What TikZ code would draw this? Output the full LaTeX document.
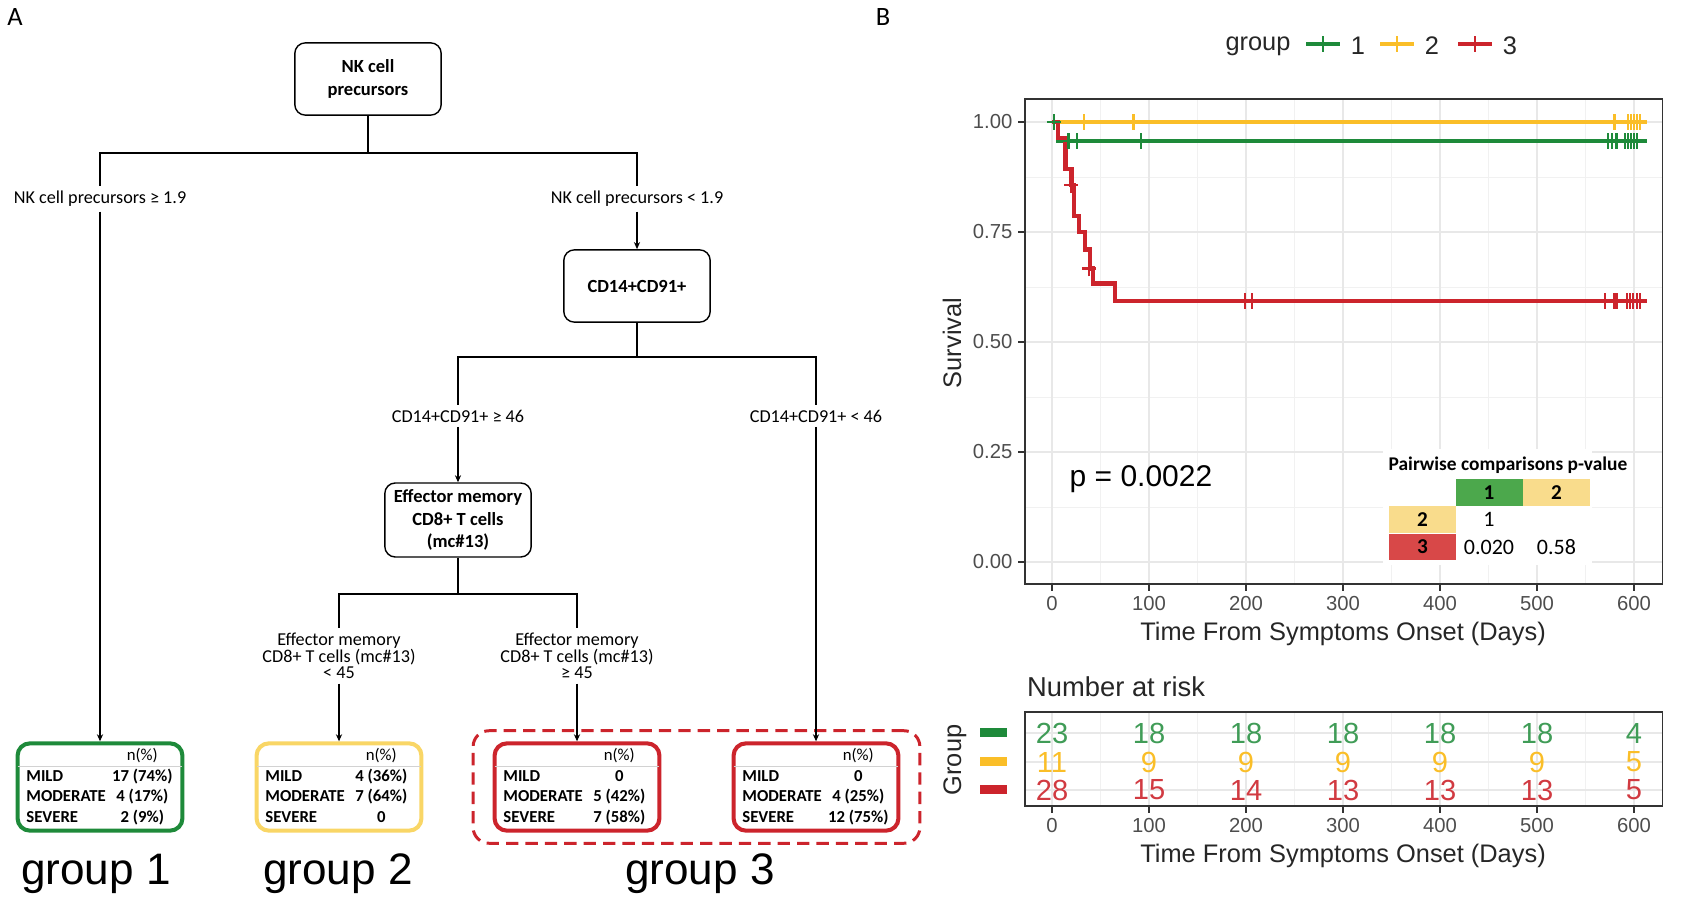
\documentclass[tikz,border=0pt]{standalone}
\usepackage{fontspec}
\setmainfont{Carlito}
\newfontfamily\plotfont{Liberation Sans}
\usepackage{array}
\usepackage{colortbl}
\usetikzlibrary{positioning}
\usetikzlibrary{fit}
\usetikzlibrary{arrows.meta}

\definecolor{grpgreen}{RGB}{30,138,58}
\definecolor{grpyellow}{RGB}{250,190,40}
\definecolor{grpred}{RGB}{204,36,44}
\definecolor{leafyellow}{RGB}{249,214,102}
\definecolor{cellgreen}{RGB}{76,168,76}
\definecolor{cellyellow}{RGB}{249,220,140}
\definecolor{cellred}{RGB}{216,72,72}
\definecolor{ticktext}{RGB}{77,77,77}
\definecolor{gridcol}{RGB}{232,232,232}

\newcommand{\leaftab}[3]{%
  \begin{tabular}{@{\hspace{5pt}}p{48pt}@{}>{\centering\arraybackslash}p{35.5pt}@{\hspace{5pt}}}
    & n(\%)\\ \arrayrulecolor{gray!35}\hline
    \textbf{MILD} & \textbf{#1}\\
    \textbf{MODERATE} & \textbf{#2}\\
    \textbf{SEVERE} & \textbf{#3}
  \end{tabular}}

\tikzset{
  split/.style={draw, rounded corners=6pt, line width=0.8pt, minimum width=83pt, minimum height=41pt,
    align=center, font=\fontsize{10.5}{13}\selectfont\bfseries},
  rule/.style={font=\fontsize{10.3}{9.4}\selectfont, align=center, inner sep=2.5pt},
  leaf/.style={rounded corners=7pt, line width=2.3pt, inner sep=0pt, minimum width=93.5pt,
    minimum height=49.5pt, font=\fontsize{9.5}{11.6}\selectfont},
  conn/.style={line width=0.6pt},
  arr/.style={conn, -{Stealth[length=4pt,width=3.5pt]}},
  grplab/.style={font=\plotfont\fontsize{25}{25}\selectfont},
  plotlab/.style={font=\plotfont\fontsize{14.4}{16}\selectfont, text=black!85},
  ticklab/.style={font=\plotfont\fontsize{11.5}{13}\selectfont, text=ticktext, inner sep=1pt},
  gridmajor/.style={gridcol, line width=0.8pt},
  gridminor/.style={gridcol!60, line width=0.5pt},
  curve/.style={line width=2.4pt},
  cell/.style={minimum width=38pt, minimum height=15.3pt, inner sep=0pt, font=\fontsize{12}{12}\selectfont\bfseries},
  cens/.pic={\draw[line width=1.3pt] (-4pt,0) -- (4pt,0) (0,-4.5pt) -- (0,4.5pt);}
}

\begin{document}
\begin{tikzpicture}[x=0.567pt, y=-0.567pt]
\useasboundingbox (0,0) rectangle (1689,916);

% panel A: tree
\node[font=\fontsize{15}{15}\selectfont] (pa) at (15,17) {A};
\node[split] (nk) at (368,79) {NK cell\\precursors};
\coordinate (b1) at (368,153);
\node[rule] (r1) at (100,199) {NK cell precursors ≥ 1.9};
\node[rule] (r2) at (637,199) {NK cell precursors < 1.9};
\node[split] (cd) at (637,286) {CD14+CD91+};
\coordinate (b2) at (637,357);
\node[rule] (r3) at (458,416) {CD14+CD91+ ≥ 46};
\node[rule] (r4) at (816,416) {CD14+CD91+ < 46};
\node[split, minimum height=42pt, font=\fontsize{10.5}{12.8}\selectfont\bfseries] (em) at (458,520) {Effector memory\\CD8+ T cells\\(mc\#13)};
\coordinate (b3) at (458,594);
\node[rule] (r5) at (339,656) {Effector memory\\CD8+ T cells (mc\#13)\\< 45};
\node[rule] (r6) at (577,656) {Effector memory\\CD8+ T cells (mc\#13)\\≥ 45};

\node[leaf, draw=grpgreen] (g1) at (100,787) {\leaftab{17 (74\%)}{4 (17\%)}{2 (9\%)}};
\node[leaf, draw=leafyellow] (g2) at (339,787) {\leaftab{4 (36\%)}{7 (64\%)}{0}};
\node[leaf, draw=grpred] (g3a) at (577,787) {\leaftab{0}{5 (42\%)}{7 (58\%)}};
\node[leaf, draw=grpred] (g3b) at (816,787) {\leaftab{0}{4 (25\%)}{12 (75\%)}};
\node[draw=grpred, line width=1.7pt, dash pattern=on 7pt off 4pt, rounded corners=9pt,
  inner xsep=11pt, inner ysep=6pt, fit=(g3a)(g3b)] (g3) {};

\draw[conn] (nk) -- (b1) -| (r1);
\draw[conn] (b1) -| (r2);
\draw[arr] (r1) -- (g1);
\draw[arr] (r2) -- (cd);
\draw[conn] (cd) -- (b2) -| (r3);
\draw[conn] (b2) -| (r4);
\draw[arr] (r3) -- (em);
\draw[arr] (r4) -- (g3b);
\draw[conn] (em) -- (b3) -| (r5);
\draw[conn] (b3) -| (r6);
\draw[arr] (r5) -- (g2);
\draw[arr] (r6) -- (g3a);

\node[grplab] (n1) at (96,874) {group 1};
\node[grplab] (n2) at (338,874) {group 2};
\node[grplab] (n3) at (700,874) {group 3};

% panel B: survival curves
\node[font=\fontsize{15}{15}\selectfont] (pb) at (883,17) {B};
\node[plotlab] (leg) at (1258,46) {group};
\foreach \c/\n/\x in {grpgreen/1/1323, grpyellow/2/1397, grpred/3/1475} {
  \draw[\c, line width=2.3pt] (\x-17,44) -- (\x+17,44);
  \pic[\c] at (\x,44) {cens};
  \node[plotlab] (leg\n) at (\x+35,46) {\n};
}

\begin{scope}[shift={(1052,562)}, x=0.55pt, y=249.48pt]
  \coordinate (pll) at (-27.8,-0.05);
  \coordinate (pur) at (629.5,1.052);
  \foreach \t in {50,150,...,550} \draw[gridminor] (\t,-0.05) -- (\t,1.052);
  \foreach \s in {0.125,0.375,0.625,0.875} \draw[gridminor] (-27.8,\s) -- (629.5,\s);
  \foreach \t in {0,100,...,600} {
    \draw[gridmajor] (\t,-0.05) -- (\t,1.052);
    \draw[line width=0.7pt, black!80] (\t,-0.05) -- ++(0,-4pt);
    \node[ticklab, anchor=north] at ([yshift=-6pt]\t,-0.05) {\t};
  }
  \foreach \s/\l in {0/0.00,0.25/0.25,0.5/0.50,0.75/0.75,1/1.00} {
    \draw[gridmajor] (-27.8,\s) -- (629.5,\s);
    \draw[line width=0.7pt, black!80] (-27.8,\s) -- ++(-4pt,0);
    \node[ticklab, anchor=east] at ([xshift=-6pt]-27.8,\s) {\l};
  }
  % curves
  \draw[curve, grpgreen] (0,1) -| (6.5,0.957) -- (613,0.957);
  \draw[curve, grpyellow] (0,1) -- (613,1);
  \draw[curve, grpred] (0,1) -| (6.5,0.964) -| (14,0.893) -| (20,0.857) -| (22.5,0.786)
    -| (28,0.75) -| (34,0.71) -| (39,0.667) -| (42,0.633) -| (65,0.594) -- (613,0.594);
  \pic[grpgreen] at (2,1) {cens};
  \foreach \t in {17,26,92,573,577,582,591,594,597,600,603} \pic[grpgreen] at (\t,0.957) {cens};
  \foreach \t in {33,84,580,594,597,600,603,606} \pic[grpyellow] at (\t,1) {cens};
  \pic[grpred] at (20,0.857) {cens};
  \pic[grpred] at (38,0.667) {cens};
  \foreach \t in {199,206,570,580,582,593,596,599,603,606} \pic[grpred] at (\t,0.594) {cens};
\end{scope}

\node[plotlab, rotate=90] (ylab) at (952,343) {Survival};
\node[plotlab] (xlab) at (1343,634) {Time From Symptoms Onset (Days)};
\node[font=\plotfont\fontsize{17}{17}\selectfont] (pval) at (1141,479) {p = 0.0022};

% pairwise table
\fill[white] (1383,449) rectangle (1592,565);
\node[font=\fontsize{11}{11}\selectfont\bfseries] (ptitle) at (1508,465) {Pairwise comparisons p-value};
\node[cell, fill=cellgreen] (h1) at (1489,492.5) {1};
\node[cell, fill=cellyellow] (h2) at (1556.5,492.5) {2};
\node[cell, fill=cellyellow] (v2) at (1422.5,519.5) {2};
\node[cell, fill=cellred] (v3) at (1422.5,547) {3};
\node[font=\fontsize{12.5}{12.5}\selectfont] (p21) at (1489,519.5) {1};
\node[font=\fontsize{12.5}{12.5}\selectfont] (p31) at (1489,547) {0.020};
\node[font=\fontsize{12.5}{12.5}\selectfont] (p32) at (1556.5,547) {0.58};

\draw[line width=0.7pt, black!80] (pll) rectangle (pur);

% number at risk
\node[font=\plotfont\fontsize{15.5}{16}\selectfont, text=black!85, anchor=west] (risk) at (1021,687) {Number at risk};
\node[plotlab, rotate=90] (glab) at (955,760) {Group};
\fill[grpgreen] (980,728) rectangle (1007,737);
\fill[grpyellow] (980,757) rectangle (1007,766);
\fill[grpred] (980,785) rectangle (1007,794);
\begin{scope}[shift={(1052,0)}, x=0.55pt]
  \foreach \t in {50,150,...,550} \draw[gridminor] (\t,712) -- (\t,806);
  \foreach \y in {733,762,790} \draw[gridmajor] (-27.8,\y) -- (629.5,\y);
  \foreach \t in {0,100,...,600} {
    \draw[gridmajor] (\t,712) -- (\t,806);
    \draw[line width=0.7pt, black!80] (\t,806) -- ++(0,-4pt);
    \node[ticklab, anchor=north] at ([yshift=-6pt]\t,806) {\t};
  }
  \foreach \t/\n in {0/23,100/18,200/18,300/18,400/18,500/18,600/4}
    \node[font=\plotfont\fontsize{16.5}{16}\selectfont, text=grpgreen!85] at (\t,733) {\n};
  \foreach \t/\n in {0/11,100/9,200/9,300/9,400/9,500/9,600/5}
    \node[font=\plotfont\fontsize{16.5}{16}\selectfont, text=grpyellow] at (\t,762) {\n};
  \foreach \t/\n in {0/28,100/15,200/14,300/13,400/13,500/13,600/5}
    \node[font=\plotfont\fontsize{16.5}{16}\selectfont, text=grpred!90] at (\t,790) {\n};
  \draw[line width=0.7pt, black!80] (-27.8,712) rectangle (629.5,806);
\end{scope}
\node[plotlab] (xlab2) at (1343,856) {Time From Symptoms Onset (Days)};
\end{tikzpicture}
\end{document}
